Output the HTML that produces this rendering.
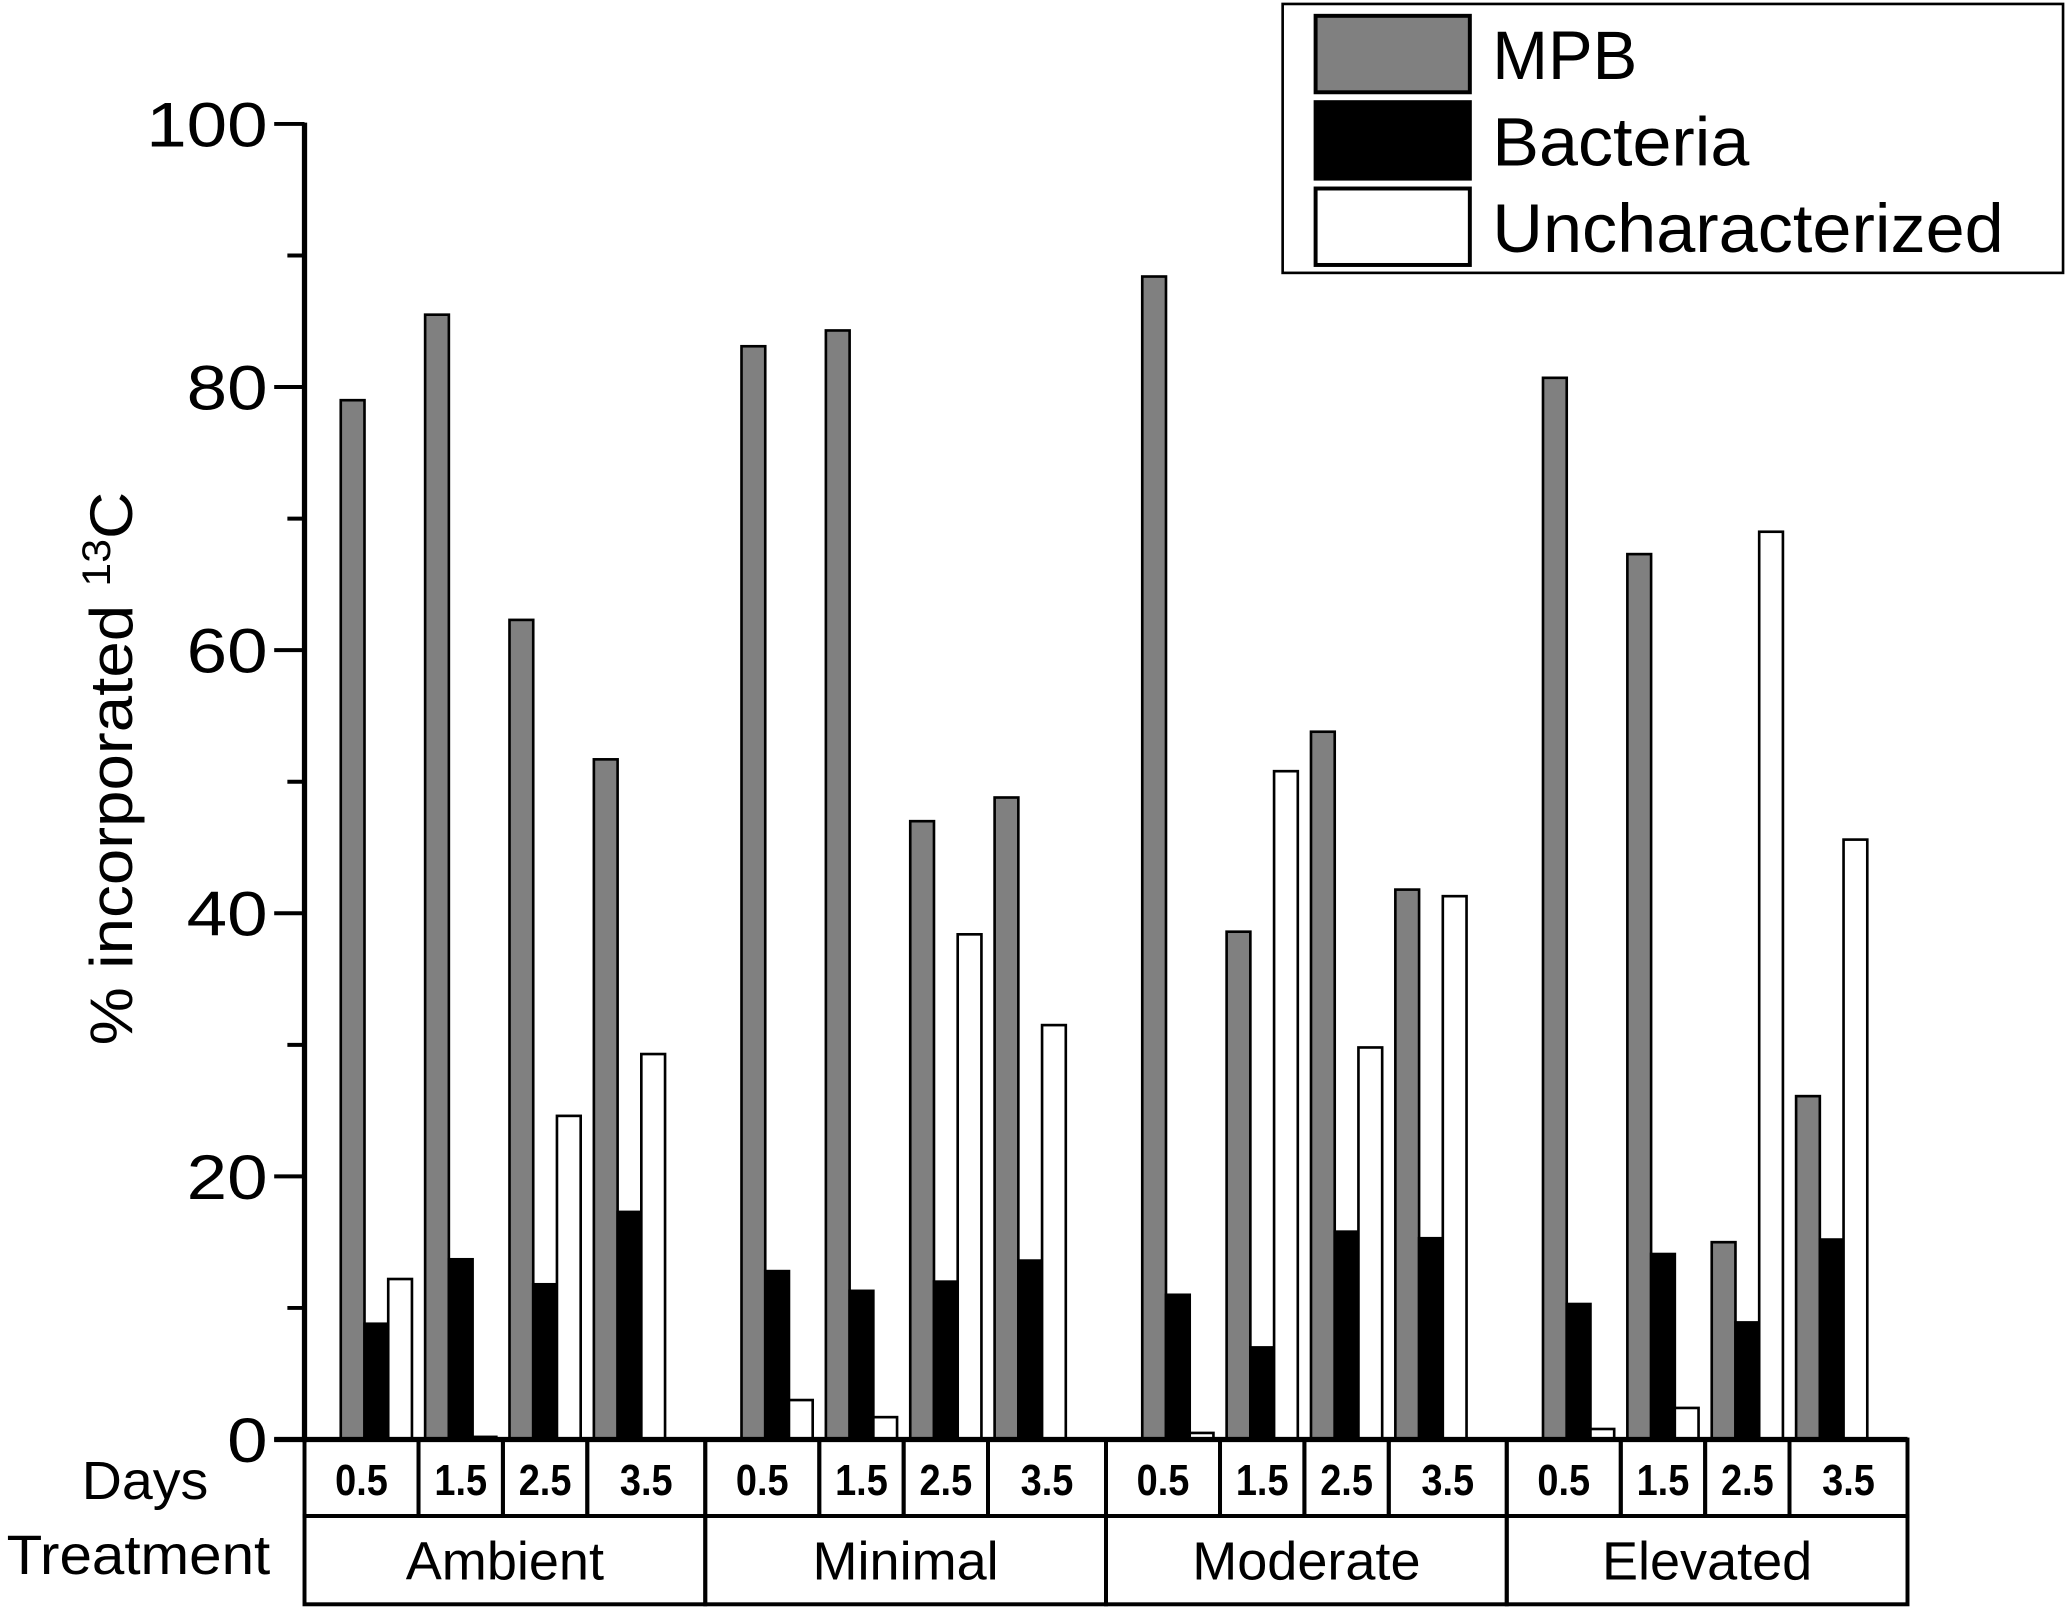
<!DOCTYPE html>
<html><head><meta charset="utf-8"><style>html,body{margin:0;padding:0;background:#fff}svg{display:block}text{font-family:"Liberation Sans",sans-serif;fill:#000}</style></head>
<body>
<svg id="chart" width="2067" height="1613" viewBox="0 0 1568 1223.6" xmlns="http://www.w3.org/2000/svg"></svg>
<script>
const treatments = ["Ambient","Minimal","Moderate","Elevated"];
const days = ["0.5","1.5","2.5","3.5"];
const seriesNames = ["MPB","Bacteria","Uncharacterized"];
const mpb = [79,85.5,62.3,51.7, 83.1,84.3,47,48.8, 88.4,38.6,53.8,41.8, 80.7,67.3,15,26.1];
const bacteria = [8.8,13.7,11.8,17.3, 12.8,11.3,12,13.6, 11,7,15.8,15.3, 10.3,14.1,8.9,15.2];
const unchar = [12.2,0.2,24.6,29.3, 3,1.7,38.4,31.5, 0.5,50.8,29.8,41.3, 0.8,2.4,69,45.6];
const yTicks = [0,20,40,60,80,100];
const yMinor = [10,30,50,70,90];

const svg = document.getElementById('chart');
const NS = "http://www.w3.org/2000/svg";
function mk(tag, attrs, parent){const e=document.createElementNS(NS,tag);for(const k in attrs)e.setAttribute(k,attrs[k]);(parent||svg).appendChild(e);return e;}
const x0=231, y0=1092, yTop=94, gW=304, dW=64, firstC=285.5, bw=18;
const yS = v => y0 - (v/100)*(y0-yTop);
const xC = (g,d) => firstC + gW*g + dW*d;
const fills=["#808080","#000","#fff"];
const data=[mpb,bacteria,unchar];

for(let g=0;g<4;g++)for(let d=0;d<4;d++)for(let s=0;s<3;s++){
  const v=data[s][g*4+d];
  const x=xC(g,d)-27+s*bw;
  const r=mk('rect',{x:x,y:yS(v),width:bw,height:Math.max(0.5,y0-yS(v)),fill:fills[s],stroke:"#000","stroke-width":2});
  
  
}
const ya=mk('line',{x1:x0,y1:yTop-1,x2:x0,y2:y0+2,stroke:"#000","stroke-width":4});


yTicks.forEach(t=>{
  mk('line',{x1:208,y1:yS(t),x2:x0,y2:yS(t),stroke:"#000","stroke-width":3});
  const tx=mk('text',{x:203,y:yS(t)+17,"text-anchor":"end","font-size":48,transform:`scale(1.15,1) translate(${-203*0.15/1.15},0)`});
  tx.textContent=t;
  
  
});
yMinor.forEach(t=>mk('line',{x1:218,y1:yS(t),x2:x0,y2:yS(t),stroke:"#000","stroke-width":3}));
const yt=mk('text',{x:0,y:0,"text-anchor":"middle","font-size":46,transform:"translate(100,583) rotate(-90)",textLength:420,lengthAdjust:"spacingAndGlyphs"});
yt.innerHTML='% incorporated <tspan baseline-shift="super" font-size="30">13</tspan>C';


const xa=mk('line',{x1:208,y1:y0,x2:1447,y2:y0,stroke:"#000","stroke-width":4});


for(let g=0;g<4;g++){
  const gx=x0+gW*g;
  for(let d=0;d<4;d++){
    const l = d===0?gx:(xC(g,d-1)+xC(g,d))/2;
    const r = d===3?gx+gW:(xC(g,d)+xC(g,d+1))/2;
    mk('rect',{x:l,y:y0,width:r-l,height:58,fill:"none",stroke:"#000","stroke-width":3});
    const t=mk('text',{x:(l+r)/2,y:y0+42,"text-anchor":"middle","font-size":33,"font-weight":"bold",textLength:40,lengthAdjust:"spacingAndGlyphs"});
    t.textContent=days[d];
    
    
  }
  mk('rect',{x:gx,y:y0+58,width:gW,height:67,fill:"none",stroke:"#000","stroke-width":3});
  const tt=mk('text',{x:gx+gW/2,y:y0+106,"text-anchor":"middle","font-size":41});
  tt.textContent=treatments[g];
  
  
}
const dl=mk('text',{x:110,y:1137,"text-anchor":"middle","font-size":41,textLength:96,lengthAdjust:"spacingAndGlyphs"});
dl.textContent="Days";


const tl=mk('text',{x:105,y:1194,"text-anchor":"middle","font-size":42,textLength:200,lengthAdjust:"spacingAndGlyphs"});
tl.textContent="Treatment";


const lg=mk('g',{});


mk('rect',{x:973,y:3,width:592,height:204,fill:"#fff",stroke:"#000","stroke-width":2},lg);
const lw=[110,195,388];
for(let s=0;s<3;s++){
  const y=12+s*65.5;
  const sw=mk('rect',{x:998,y:y,width:117,height:58,fill:fills[s],stroke:"#000","stroke-width":3},lg);
  
  
  const t=mk('text',{x:1132,y:y+48,"font-size":52,textLength:lw[s],lengthAdjust:"spacingAndGlyphs"},lg);
  t.textContent=seriesNames[s];
  
  
}
</script>
</body></html>
